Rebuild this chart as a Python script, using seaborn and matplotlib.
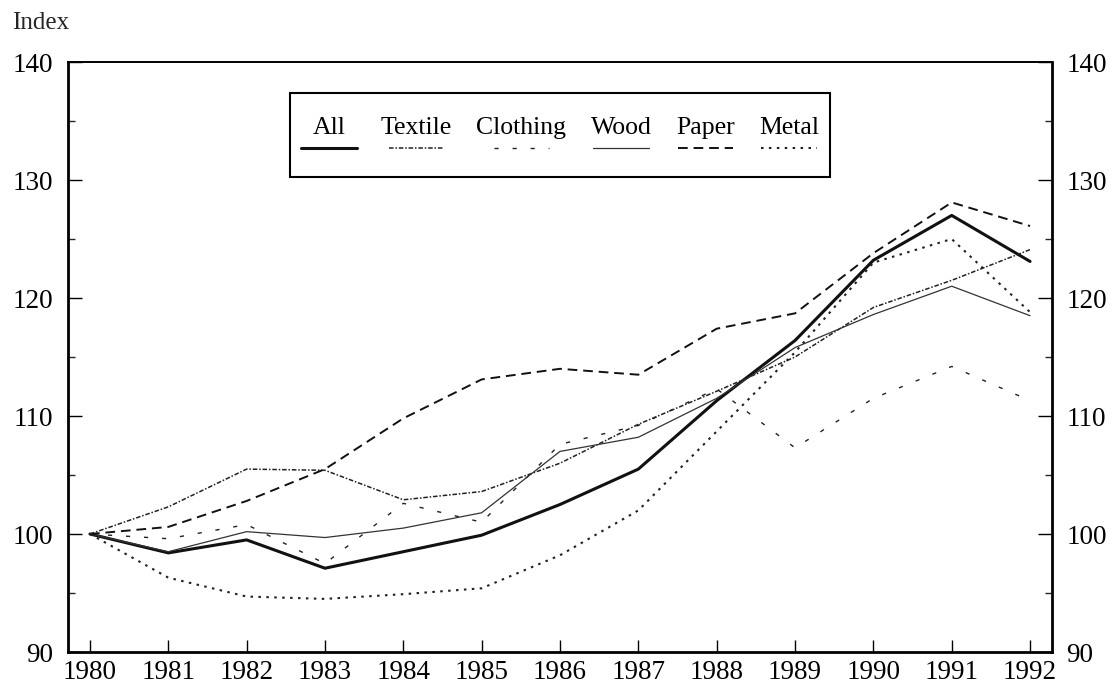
import numpy as np
import pandas as pd
import matplotlib
matplotlib.use("Agg")
import matplotlib.pyplot as plt
import seaborn as sns
from matplotlib.ticker import MultipleLocator
from matplotlib.offsetbox import AnchoredOffsetbox, HPacker, VPacker, TextArea, DrawingArea
from matplotlib.lines import Line2D

years = list(range(1980, 1993))
all_idx = [100, 98.4, 99.5, 97.1, 98.5, 99.9, 102.5, 105.5, 111.3, 116.4, 123.2, 127.0, 123.1]
textile = [100, 102.3, 105.5, 105.4, 102.9, 103.6, 106.0, 109.3, 112.1, 115.0, 119.2, 121.5, 124.1]
clothing = [100, 99.6, 100.8, 97.5, 102.6, 101.0, 107.6, 109.2, 112.3, 107.3, 111.5, 114.2, 111.3]
wood = [100, 98.5, 100.2, 99.7, 100.5, 101.8, 107.0, 108.2, 111.5, 115.8, 118.6, 121.0, 118.5]
paper = [100, 100.6, 102.8, 105.5, 109.8, 113.1, 114.0, 113.5, 117.4, 118.7, 123.8, 128.1, 126.1]
metal = [100, 96.3, 94.7, 94.5, 94.9, 95.4, 98.2, 102.0, 108.7, 115.4, 123.0, 125.0, 118.8]

sectors = ["All", "Textile", "Clothing", "Wood", "Paper", "Metal"]
values = [all_idx, textile, clothing, wood, paper, metal]

df = pd.DataFrame({"Year": years * len(sectors),
                   "Index": sum(values, []),
                   "Sector": np.repeat(sectors, len(years))})

styles = {
    "All": dict(linestyle="-", linewidth=2.2, color="#111111"),
    "Textile": dict(linestyle=(0, (3, 1.2, 1, 1.2)), linewidth=1.1, color="#222222"),
    "Clothing": dict(linestyle=(0, (3, 10)), linewidth=1.0, color="#222222"),
    "Wood": dict(linestyle="-", linewidth=0.9, color="#333333"),
    "Paper": dict(linestyle=(0, (5, 3)), linewidth=1.4, color="#111111"),
    "Metal": dict(linestyle=(0, (1.2, 2.6)), linewidth=1.5, color="#222222"),
}

sns.set_theme(style="ticks")
plt.rcParams["font.family"] = ["Liberation Serif", "DejaVu Serif"]

fig = plt.figure(figsize=(11.13, 6.89), dpi=100)
ax = fig.add_axes([0.0611, 0.0537, 0.8841, 0.8563])

for name in sectors:
    sns.lineplot(data=df[df["Sector"] == name], x="Year", y="Index", ax=ax,
                 legend=False, **styles[name])

ax.set_xlim(1979.72, 1992.28)
ax.set_ylim(90, 140)
ax.set_xticks(years)
ax.set_yticks(range(90, 141, 10))
ax.yaxis.set_minor_locator(MultipleLocator(5))
ax.set_xlabel("")
ax.set_ylabel("")

ax.tick_params(axis="y", which="major", direction="in", length=10, width=1,
               left=True, right=True, labelleft=True, labelright=True,
               labelsize=19.5, pad=10.5, colors="black")
ax.tick_params(axis="y", which="minor", direction="in", length=5, width=1,
               left=True, right=True)
ax.tick_params(axis="x", which="major", direction="in", length=8.5, width=1,
               bottom=True, top=False, labelsize=19.5, pad=6, colors="black")

for side, lw in [("left", 2.0), ("bottom", 2.0), ("right", 2.0), ("top", 1.4)]:
    ax.spines[side].set_visible(True)
    ax.spines[side].set_linewidth(lw)
    ax.spines[side].set_color("black")

# legend: label above each line sample
items = []
for name in sectors:
    ta = TextArea(name, textprops=dict(fontsize=18.5, color="black"))
    da = DrawingArea(40, 6, 0, 0)
    st = styles[name]
    da.add_artist(Line2D([0, 40], [3, 3], linestyle=st["linestyle"],
                         linewidth=st["linewidth"], color=st["color"]))
    items.append(VPacker(children=[ta, da], align="center", pad=0, sep=3))
row = HPacker(children=items, align="center", pad=0, sep=17.5)
top_sp = DrawingArea(10, 9, 0, 0)
bot_sp = DrawingArea(10, 10, 0, 0)
content = VPacker(children=[top_sp, row, bot_sp], align="center", pad=0, sep=0)
legbox = AnchoredOffsetbox(loc="upper center", child=content, pad=0.75,
                           frameon=True, bbox_to_anchor=(0.5, 0.947),
                           bbox_transform=ax.transAxes, borderpad=0)
legbox.patch.set_boxstyle("square", pad=0)
legbox.patch.set_edgecolor("black")
legbox.patch.set_linewidth(1.5)
ax.add_artist(legbox)

fig.text(0.011, 0.966, "Index", fontsize=18, ha="left", va="center")

fig.savefig("out.png", dpi=100)
